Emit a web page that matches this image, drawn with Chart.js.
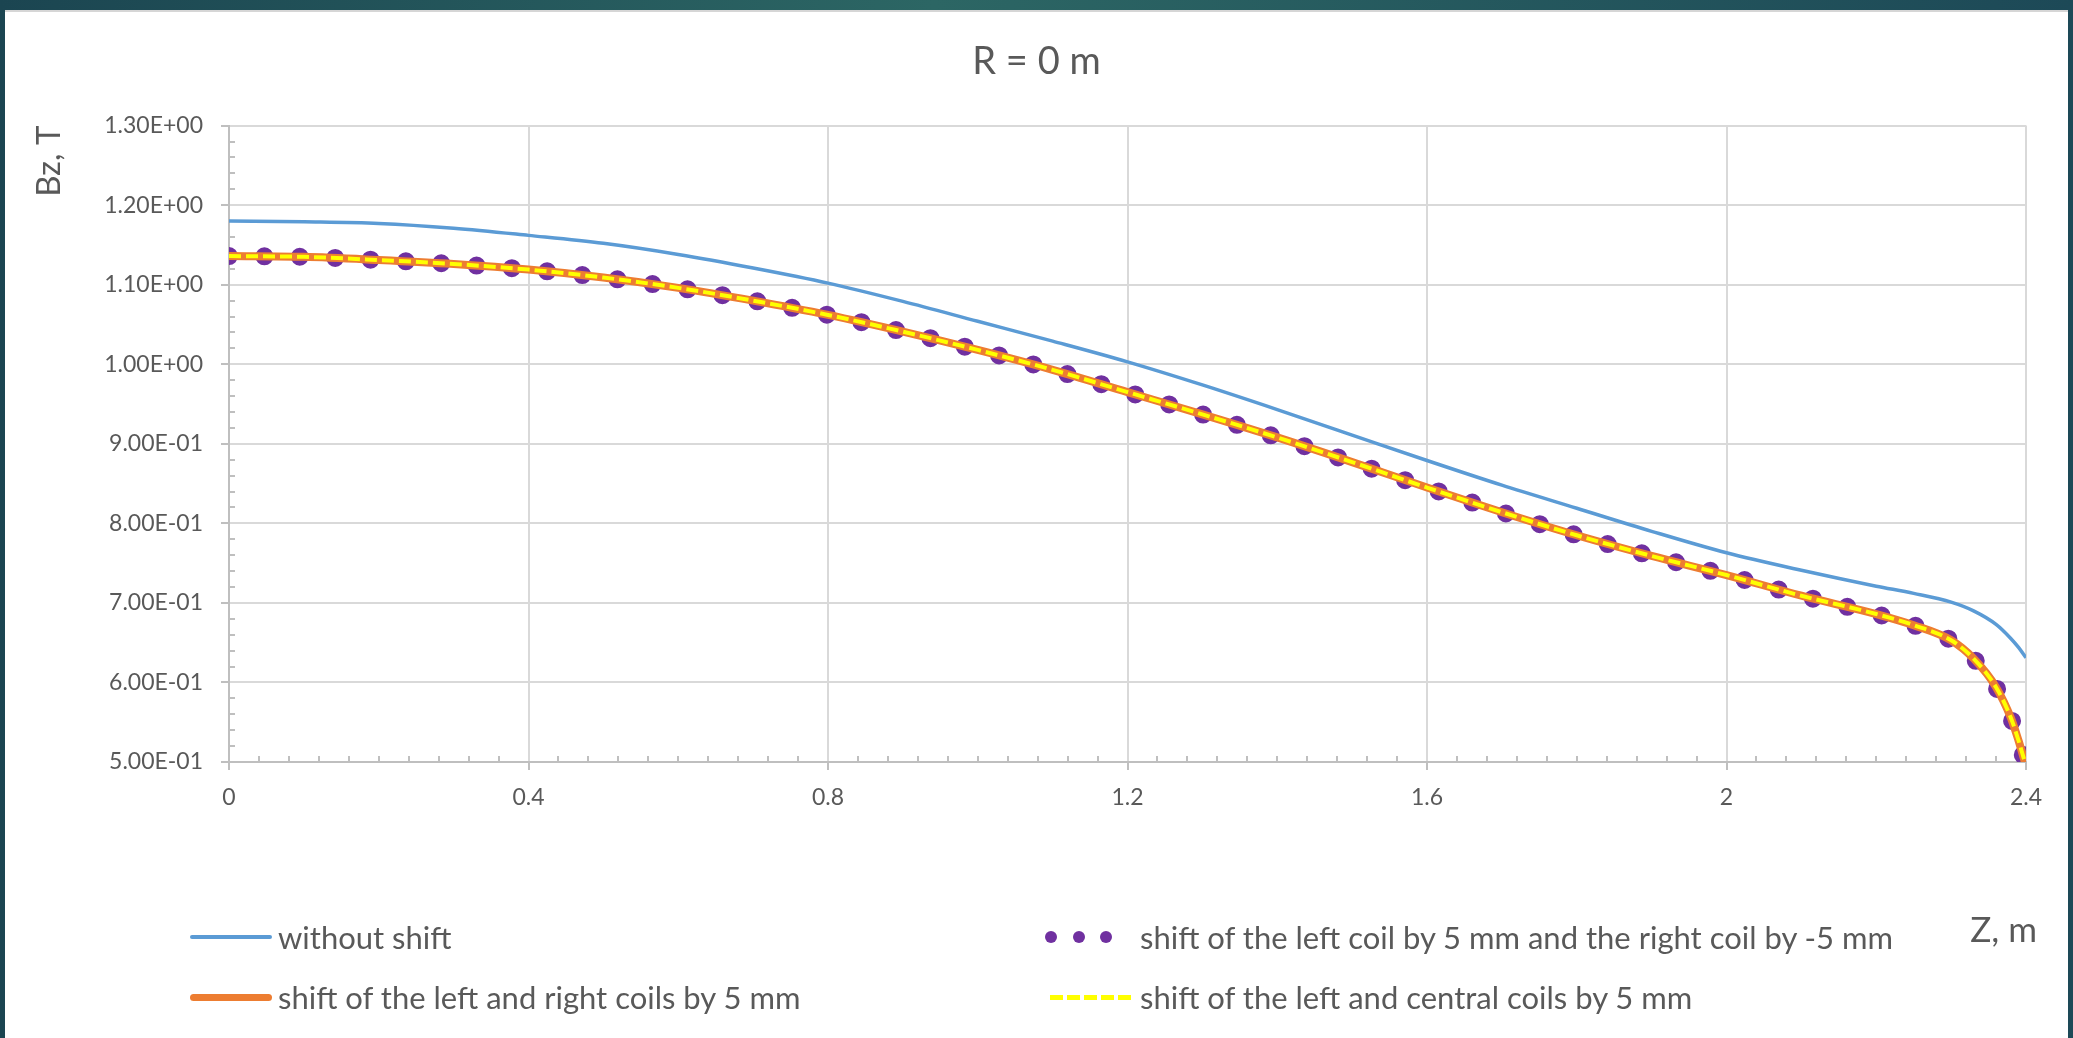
<!DOCTYPE html>
<html lang="en">
<head>
    <meta charset="UTF-8">
    <title>R = 0 m</title>
    <script src="https://cdn.jsdelivr.net/npm/chart.js"></script>
    <style>
        html, body { margin: 0; padding: 0; }
        body {
            width: 2073px; height: 1038px; position: relative; overflow: hidden;
            background: linear-gradient(90deg, #1b4551 0%, #2c6664 45%, #1d4957 100%);
            font-family: Lato, sans-serif;
        }
        #panel {
            position: absolute; left: 5px; top: 10px; width: 2063px; height: 1028px;
            background: #fff; border-top: 2px solid #d6d6d6; box-sizing: border-box;
        }
        #wrap { position: absolute; left: 0; top: 0; width: 2073px; height: 1038px; }
        .lg-text {
            position: absolute; color: #595959; font-size: 31px; line-height: 40px;
            height: 40px; white-space: nowrap;
        }
        .lg-sym { position: absolute; }
        .dot { position: absolute; width: 12px; height: 12px; border-radius: 50%; background: #7030a0; }
        #xTitle {
            position: absolute; right: 36px; top: 906px; color: #595959;
            font-size: 35px; line-height: 44px; white-space: nowrap;
        }
    </style>
</head>
<body>
    <div id="panel"></div>
    <div id="wrap"><canvas id="bzChart"></canvas></div>
    <div id="legend"></div>
    <div id="xTitle">Z, m</div>

    <script>
        // Z coordinate, m
        const zValues = [0, 0.1, 0.2, 0.3, 0.4, 0.5, 0.6, 0.7, 0.8, 0.9, 1.0, 1.1, 1.2, 1.3, 1.4, 1.5,
            1.6, 1.7, 1.8, 1.9, 2.0, 2.1, 2.2, 2.25, 2.3, 2.33, 2.36, 2.38, 2.39, 2.4];

        // Bz, T
        const bzWithoutShift = [1.180, 1.179, 1.177, 1.171, 1.162, 1.152, 1.138, 1.121, 1.102, 1.079,
            1.054, 1.029, 1.003, 0.974, 0.943, 0.911, 0.879, 0.848, 0.819, 0.790,
            0.763, 0.741, 0.721, 0.712, 0.701, 0.690, 0.673, 0.655, 0.644, 0.631];
        const bzLeftPlusRightMinus = [1.136, 1.135, 1.131, 1.126, 1.119, 1.109, 1.096, 1.080, 1.062, 1.041,
            1.018, 0.993, 0.965, 0.937, 0.908, 0.877, 0.845, 0.814, 0.785, 0.759,
            0.735, 0.709, 0.686, 0.672, 0.653, 0.630, 0.594, 0.555, 0.527, 0.495];
        const bzLeftRight = [1.136, 1.135, 1.131, 1.126, 1.119, 1.109, 1.096, 1.080, 1.062, 1.041,
            1.018, 0.993, 0.965, 0.937, 0.908, 0.877, 0.845, 0.814, 0.785, 0.759,
            0.735, 0.709, 0.686, 0.672, 0.653, 0.630, 0.594, 0.555, 0.527, 0.495];
        const bzLeftCentral = [1.136, 1.135, 1.131, 1.126, 1.119, 1.109, 1.096, 1.080, 1.062, 1.041,
            1.018, 0.993, 0.965, 0.937, 0.908, 0.877, 0.845, 0.814, 0.785, 0.759,
            0.735, 0.709, 0.686, 0.672, 0.653, 0.630, 0.594, 0.555, 0.527, 0.495];

        const seriesLabels = [
            'without shift',
            'shift of the left coil by 5 mm and the right coil by -5 mm',
            'shift of the left and right coils by 5 mm',
            'shift of the left and central coils by 5 mm'
        ];

        const xTickValues = [0, 0.4, 0.8, 1.2, 1.6, 2, 2.4];
        const xTickLabels = ['0', '0.4', '0.8', '1.2', '1.6', '2', '2.4'];
        const yTickValues = [0.5, 0.6, 0.7, 0.8, 0.9, 1.0, 1.1, 1.2, 1.3];
        const yTickLabels = ['5.00E-01', '6.00E-01', '7.00E-01', '8.00E-01', '9.00E-01',
            '1.00E+00', '1.10E+00', '1.20E+00', '1.30E+00'];

        const toPoints = vals => zValues.map((z, i) => ({ x: z, y: vals[i] }));

        const grey = '#595959';
        const axisGrey = '#bfbfbf';

        // small inner ticks, like the Excel minor tick marks
        const minorTicks = {
            id: 'minorTicks',
            beforeDatasetsDraw(chart) {
                const { ctx, scales: { x, y } } = chart;
                ctx.save();
                ctx.strokeStyle = axisGrey;
                ctx.lineWidth = 2;
                ctx.beginPath();
                for (let i = 1; i < 40; i++) {
                    if (i % 5 === 0) continue;
                    const py = Math.round(y.getPixelForValue(0.5 + i * 0.02));
                    ctx.moveTo(x.left, py);
                    ctx.lineTo(x.left + 6, py);
                }
                for (let i = 1; i < 60; i++) {
                    if (i % 10 === 0) continue;
                    const px = Math.round(x.getPixelForValue(i * 0.04));
                    ctx.moveTo(px, y.bottom);
                    ctx.lineTo(px, y.bottom - 6);
                }
                ctx.stroke();
                ctx.restore();
            }
        };

        const ctx = document.getElementById('bzChart').getContext('2d');
        new Chart(ctx, {
            type: 'line',
            data: {
                datasets: [
                    {
                        label: seriesLabels[0], data: toPoints(bzWithoutShift),
                        borderColor: '#5b9bd5', borderWidth: 3.5, pointRadius: 0,
                        cubicInterpolationMode: 'monotone', order: 3
                    },
                    {
                        label: seriesLabels[1], data: toPoints(bzLeftPlusRightMinus),
                        borderColor: '#7030a0', borderWidth: 18, borderDash: [0, 35.4],
                        borderCapStyle: 'round', pointRadius: 0,
                        cubicInterpolationMode: 'monotone', order: 2
                    },
                    {
                        label: seriesLabels[2], data: toPoints(bzLeftRight),
                        borderColor: '#ed7d31', borderWidth: 8, pointRadius: 0,
                        cubicInterpolationMode: 'monotone', order: 1
                    },
                    {
                        label: seriesLabels[3], data: toPoints(bzLeftCentral),
                        borderColor: '#ffff00', borderWidth: 4, borderDash: [12, 5],
                        pointRadius: 0, cubicInterpolationMode: 'monotone', order: 0
                    }
                ]
            },
            options: {
                responsive: true,
                maintainAspectRatio: false,
                animation: false,
                layout: { padding: 0 },
                plugins: {
                    legend: { display: false },
                    tooltip: { enabled: false },
                    title: {
                        display: true, text: 'R = 0 m', color: grey,
                        font: { family: 'Lato', size: 38, weight: 'normal' },
                        padding: { top: 39, bottom: 41 }
                    }
                },
                scales: {
                    x: {
                        type: 'linear', min: 0, max: 2.4,
                        afterBuildTicks: s => { s.ticks = xTickValues.map(v => ({ value: v })); },
                        afterFit: s => { s.height = 276; },
                        grid: { color: '#d9d9d9', lineWidth: 2, tickColor: axisGrey, tickLength: 8 },
                        border: { color: axisGrey, width: 2 },
                        ticks: {
                            color: grey, font: { family: 'Lato', size: 23 }, padding: 14,
                            maxRotation: 0, autoSkip: false,
                            callback: (v, i) => xTickLabels[i]
                        }
                    },
                    y: {
                        type: 'linear', min: 0.5, max: 1.3,
                        afterBuildTicks: s => { s.ticks = yTickValues.map(v => ({ value: v })); },
                        afterFit: s => { s.width = 229; },
                        grid: { color: '#d9d9d9', lineWidth: 2, tickColor: axisGrey, tickLength: 8 },
                        border: { color: axisGrey, width: 2 },
                        ticks: {
                            color: grey, font: { family: 'Lato', size: 23 }, padding: 18,
                            callback: (v, i) => yTickLabels[i]
                        },
                        title: {
                            display: true, text: 'Bz, T', align: 'end', color: grey,
                            font: { family: 'Lato', size: 33 }, padding: { top: 30, bottom: 0 }
                        }
                    },
                    // empty right scale, only to reserve the right margin
                    yRight: {
                        position: 'right', display: true,
                        afterFit: s => { s.width = 47; },
                        grid: { display: false, drawTicks: false },
                        border: { display: false },
                        ticks: { display: false }
                    }
                }
            },
            plugins: [minorTicks]
        });

        // legend, two columns like the original
        const legend = document.getElementById('legend');
        const legendPos = [
            { x: 190, y: 937, col: 0 },
            { x: 1045, y: 937, col: 1 },
            { x: 190, y: 997, col: 0 },
            { x: 1045, y: 997, col: 1 }
        ];
        const textLeft = [278, 1140];

        legendPos.forEach((p, i) => {
            const sym = document.createElement('div');
            sym.className = 'lg-sym';
            if (i === 0) {
                Object.assign(sym.style, { left: p.x + 'px', top: (p.y - 2) + 'px', width: '82px', height: '4px', background: '#5b9bd5', borderRadius: '2px' });
            } else if (i === 1) {
                Object.assign(sym.style, { left: p.x + 'px', top: (p.y - 6) + 'px', width: '70px', height: '12px' });
                [0, 27.6, 55.2].forEach(dx => {
                    const d = document.createElement('span');
                    d.className = 'dot';
                    d.style.left = dx + 'px';
                    sym.appendChild(d);
                });
            } else if (i === 2) {
                Object.assign(sym.style, { left: p.x + 'px', top: (p.y - 3.5) + 'px', width: '82px', height: '7px', background: '#ed7d31', borderRadius: '4px' });
            } else {
                Object.assign(sym.style, {
                    left: (p.x + 5) + 'px', top: (p.y - 2.5) + 'px', width: '81px', height: '5px',
                    background: 'repeating-linear-gradient(90deg, #ffff00 0 13px, transparent 13px 17px)'
                });
            }
            legend.appendChild(sym);

            const t = document.createElement('div');
            t.className = 'lg-text';
            t.textContent = seriesLabels[i];
            t.style.left = textLeft[p.col] + 'px';
            t.style.top = (p.y - 20) + 'px';
            legend.appendChild(t);
        });
    </script>
</body>
</html>
